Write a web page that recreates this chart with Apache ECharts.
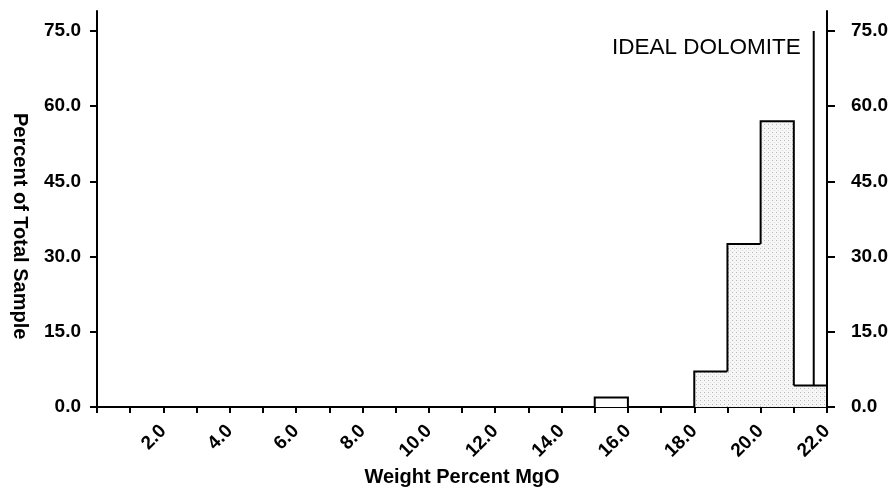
<!DOCTYPE html>
<html>
<head>
<meta charset="utf-8">
<script src="https://cdn.jsdelivr.net/npm/echarts@6/dist/echarts.min.js"></script>
<style>
  html, body { margin: 0; padding: 0; background: #fff; }
  #chart { width: 893px; height: 491px; }
</style>
</head>
<body>
<div id="chart"></div>
<script>
// Histogram of MgO content: bins are 1 wt% wide, value = percent of total sample
const openBinStarts = [15];
const openBinValues = [1.9];
const shadedBinStarts = [18, 19, 20, 21];
const shadedBinValues = [7.1, 32.5, 57.0, 4.3];
const binWidth = 1;

// Reference line for stoichiometric dolomite
const idealDolomiteMgO = 21.6;
const idealDolomiteTop = 75;
const idealDolomiteLabel = 'IDEAL DOLOMITE';

// Axis ticks
const xTickValues = [2, 4, 6, 8, 10, 12, 14, 16, 18, 20, 22];
const yTickValues = [0, 15, 30, 45, 60, 75];

const FONT = '"Liberation Sans", Arial, Helvetica, sans-serif';

// height of every bin, keyed by its lower edge (used to draw a stepped outline)
const binHeight = {};
openBinStarts.forEach((s, i) => { binHeight[s] = openBinValues[i]; });
shadedBinStarts.forEach((s, i) => { binHeight[s] = shadedBinValues[i]; });
const heightAt = s => binHeight[s] || 0;

// light stipple fill
function stipple() {
  const c = document.createElement('canvas');
  c.width = 4; c.height = 4;
  const g = c.getContext('2d');
  g.fillStyle = '#f6f6f6';
  g.fillRect(0, 0, 4, 4);
  g.fillStyle = '#b8b8b8';
  g.fillRect(0, 0, 1, 1);
  g.fillStyle = '#dddddd';
  g.fillRect(2, 2, 1, 1);
  return c;
}
const stippleFill = { image: stipple(), repeat: 'repeat' };

function binData(starts, values) {
  return starts.map((s, i) => [s, s + binWidth, values[i]]);
}

// each bin: filled body, top edge, and side edges down to the taller of its neighbours' tops
function binRenderer(fill) {
  return function (params, api) {
    const x0 = api.value(0), x1 = api.value(1), h = api.value(2);
    const leftH = heightAt(x0 - binWidth);
    const rightH = heightAt(x0 + binWidth);
    const pTL = api.coord([x0, h]);
    const pBR = api.coord([x1, 0]);
    const pL = api.coord([x0, Math.min(leftH, h)]);
    const pR = api.coord([x1, Math.min(rightH, h)]);
    const pTR = api.coord([x1, h]);
    const edge = { stroke: '#000', lineWidth: 2, fill: null, lineJoin: 'miter' };
    const children = [
      {
        type: 'rect',
        shape: { x: pTL[0], y: pTL[1], width: pBR[0] - pTL[0], height: pBR[1] - pTL[1] },
        style: { fill: fill }
      }
    ];
    const pts = [];
    if (leftH < h) pts.push(pL);
    pts.push(pTL, pTR);
    if (rightH < h) pts.push(pR);
    children.push({ type: 'polyline', shape: { points: pts }, style: edge });
    return { type: 'group', children: children };
  };
}

const chart = echarts.init(document.getElementById('chart'), null, { renderer: 'canvas' });

const axisLineStyle = { color: '#000', width: 2 };
const tickLabelStyle = { color: '#000', fontFamily: FONT, fontWeight: 'bold', fontSize: 19 };

chart.setOption({
  animation: false,
  backgroundColor: '#fff',
  grid: { left: 97, right: 66, top: 11, bottom: 84, outerBoundsMode: 'none' },
  xAxis: {
    type: 'value',
    min: 0, max: 22, interval: 1,
    name: 'Weight Percent MgO',
    nameLocation: 'middle',
    nameGap: 55,
    nameTextStyle: { color: '#000', fontFamily: FONT, fontWeight: 'bold', fontSize: 20 },
    axisLine: { show: true, onZero: false, lineStyle: axisLineStyle },
    axisTick: { show: true, inside: false, length: 6, lineStyle: { color: '#000', width: 2 } },
    axisLabel: {
      ...tickLabelStyle,
      rotate: 45,
      margin: 21,
      customValues: xTickValues,
      formatter: v => v.toFixed(1)
    },
    splitLine: { show: false }
  },
  yAxis: [
    {
      type: 'value', position: 'left',
      min: 0, max: 79,
      axisLine: { show: true, lineStyle: axisLineStyle },
      axisTick: { show: true, inside: false, length: 7, customValues: yTickValues, lineStyle: { color: '#000', width: 2 } },
      axisLabel: { ...tickLabelStyle, margin: 16, customValues: yTickValues, formatter: v => v.toFixed(1) },
      splitLine: { show: false }
    },
    {
      type: 'value', position: 'right',
      min: 0, max: 79,
      axisLine: { show: true, lineStyle: axisLineStyle },
      axisTick: { show: true, inside: false, length: 8, customValues: yTickValues, lineStyle: { color: '#000', width: 2 } },
      axisLabel: { ...tickLabelStyle, margin: 24, customValues: yTickValues, formatter: v => v.toFixed(1) },
      splitLine: { show: false }
    }
  ],
  series: [
    {
      name: idealDolomiteLabel,
      type: 'line',
      z: 1,
      symbol: 'none',
      lineStyle: { color: '#000', width: 2 },
      data: [[idealDolomiteMgO, 0], [idealDolomiteMgO, idealDolomiteTop]],
      endLabel: {
        show: true,
        formatter: idealDolomiteLabel,
        color: '#000',
        fontFamily: FONT,
        fontSize: 22.5,
        align: 'right',
        verticalAlign: 'middle',
        offset: [-21, 17]
      }
    },
    {
      name: 'open bins',
      type: 'custom',
      z: 3,
      renderItem: binRenderer('#fff'),
      encode: { x: [0, 1], y: 2 },
      data: binData(openBinStarts, openBinValues)
    },
    {
      name: 'shaded bins',
      type: 'custom',
      z: 3,
      renderItem: binRenderer(stippleFill),
      encode: { x: [0, 1], y: 2 },
      data: binData(shadedBinStarts, shadedBinValues)
    }
  ],
  graphic: [
    {
      type: 'text',
      left: 10,
      top: 113,
      rotation: -Math.PI / 2,
      style: {
        text: 'Percent of Total Sample',
        fill: '#000',
        font: 'bold 20px ' + FONT
      }
    }
  ]
});
</script>
</body>
</html>
